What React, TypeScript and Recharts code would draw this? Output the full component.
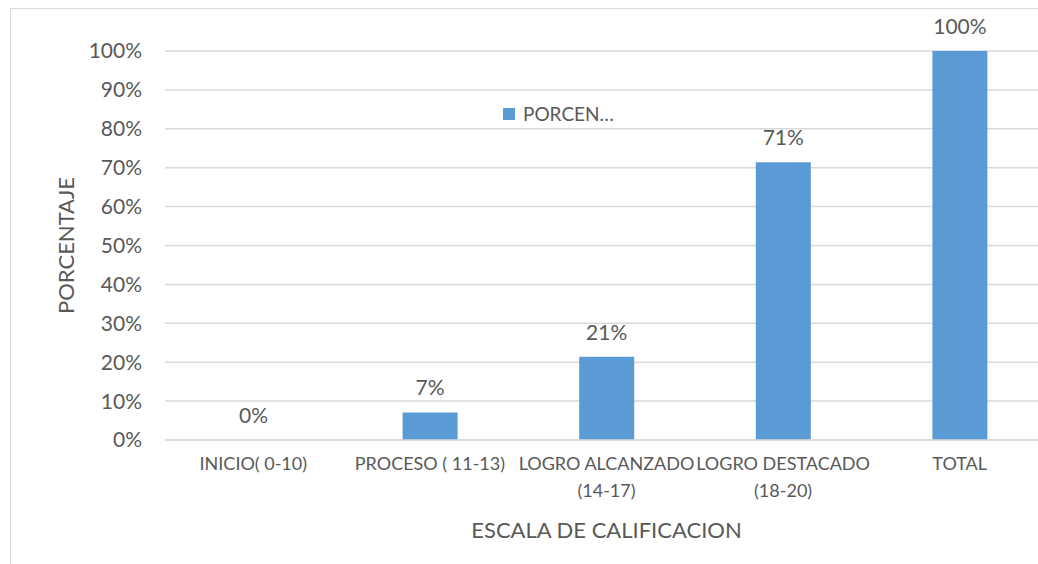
import React from "react";
import { BarChart, Bar, XAxis, YAxis, CartesianGrid, LabelList } from "recharts";

const categories = [
    "INICIO( 0-10)",
    "PROCESO ( 11-13)",
    "LOGRO ALCANZADO\n(14-17)",
    "LOGRO DESTACADO\n(18-20)",
    "TOTAL",
];
const porcentaje = [0, 0.071, 0.214, 0.714, 1];
const yTicks = [0, 0.1, 0.2, 0.3, 0.4, 0.5, 0.6, 0.7, 0.8, 0.9, 1];

const data = categories.map((name, i) => ({ name, PORCENTAJE: porcentaje[i] }));

const FONT = "Lato, 'Open Sans', sans-serif";
const TEXT = "#595959";
const BLUE = "#5b9bd5";
const pct = (v: number) => `${Math.round(v * 100)}%`;

const CategoryTick = ({ x, y, payload }: any) => {
    const lines = String(payload.value).split("\n");
    return (
        <text x={x} y={y} textAnchor="middle" fill={TEXT} fontSize={18} fontFamily={FONT}>
            {lines.map((line, i) => (
                <tspan key={i} x={x} dy={i === 0 ? 30 : 27}>
                    {line}
                </tspan>
            ))}
        </text>
    );
};

export default function App() {
    return (
        <div style={{ position: "fixed", left: 0, top: 0, width: 1038, height: 564, overflow: "hidden", background: "#fff" }}>
            <div
                style={{
                    position: "absolute",
                    left: 10,
                    top: 8,
                    width: 1100,
                    height: 600,
                    border: "1px solid #d9d9d9",
                }}
            />
            <div style={{ position: "absolute", left: 0, top: 0 }}>
                <BarChart width={1060} height={564} data={data} margin={{ top: 51, right: 12, bottom: 0, left: 0 }}>
                    <CartesianGrid vertical={false} stroke="#d9d9d9" strokeWidth={1.5} />
                    <XAxis
                        dataKey="name"
                        height={124}
                        tickSize={0}
                        tickMargin={0}
                        axisLine={{ stroke: "#d9d9d9", strokeWidth: 1.5 }}
                        tickLine={false}
                        interval={0}
                        tick={<CategoryTick />}
                        label={{
                            value: "ESCALA DE CALIFICACION",
                            position: "insideBottom",
                            offset: 26,
                            fill: TEXT,
                            fontSize: 22,
                            fontFamily: FONT,
                        }}
                    />
                    <YAxis
                        width={165}
                        domain={[0, 1]}
                        ticks={yTicks}
                        tickFormatter={pct}
                        tickSize={0}
                        tickMargin={23}
                        axisLine={false}
                        tickLine={false}
                        tick={{ fill: TEXT, fontSize: 21, fontFamily: FONT }}
                        label={{
                            content: ({ viewBox }: any) => {
                                const cy = viewBox.y + viewBox.height / 2;
                                return (
                                    <text
                                        x={65}
                                        y={cy}
                                        transform={`rotate(-90, 65, ${cy})`}
                                        textAnchor="middle"
                                        dominantBaseline="central"
                                        fill={TEXT}
                                        fontSize={22}
                                        fontFamily={FONT}
                                    >
                                        PORCENTAJE
                                    </text>
                                );
                            },
                        }}
                    />
                    <Bar dataKey="PORCENTAJE" fill={BLUE} barSize={55} minPointSize={0.01} isAnimationActive={false}>
                        <LabelList
                            dataKey="PORCENTAJE"
                            position="top"
                            offset={17}
                            formatter={(v: any) => pct(Number(v))}
                            fill={TEXT}
                            fontSize={21}
                            fontFamily={FONT}
                        />
                    </Bar>
                </BarChart>
            </div>
            <div
                style={{
                    position: "absolute",
                    left: 503,
                    top: 102,
                    display: "flex",
                    alignItems: "center",
                    gap: 8,
                    fontFamily: FONT,
                    fontSize: 19,
                    color: TEXT,
                }}
            >
                <span style={{ width: 12, height: 12, background: BLUE, display: "inline-block" }} />
                <span>PORCEN…</span>
            </div>
        </div>
    );
}
